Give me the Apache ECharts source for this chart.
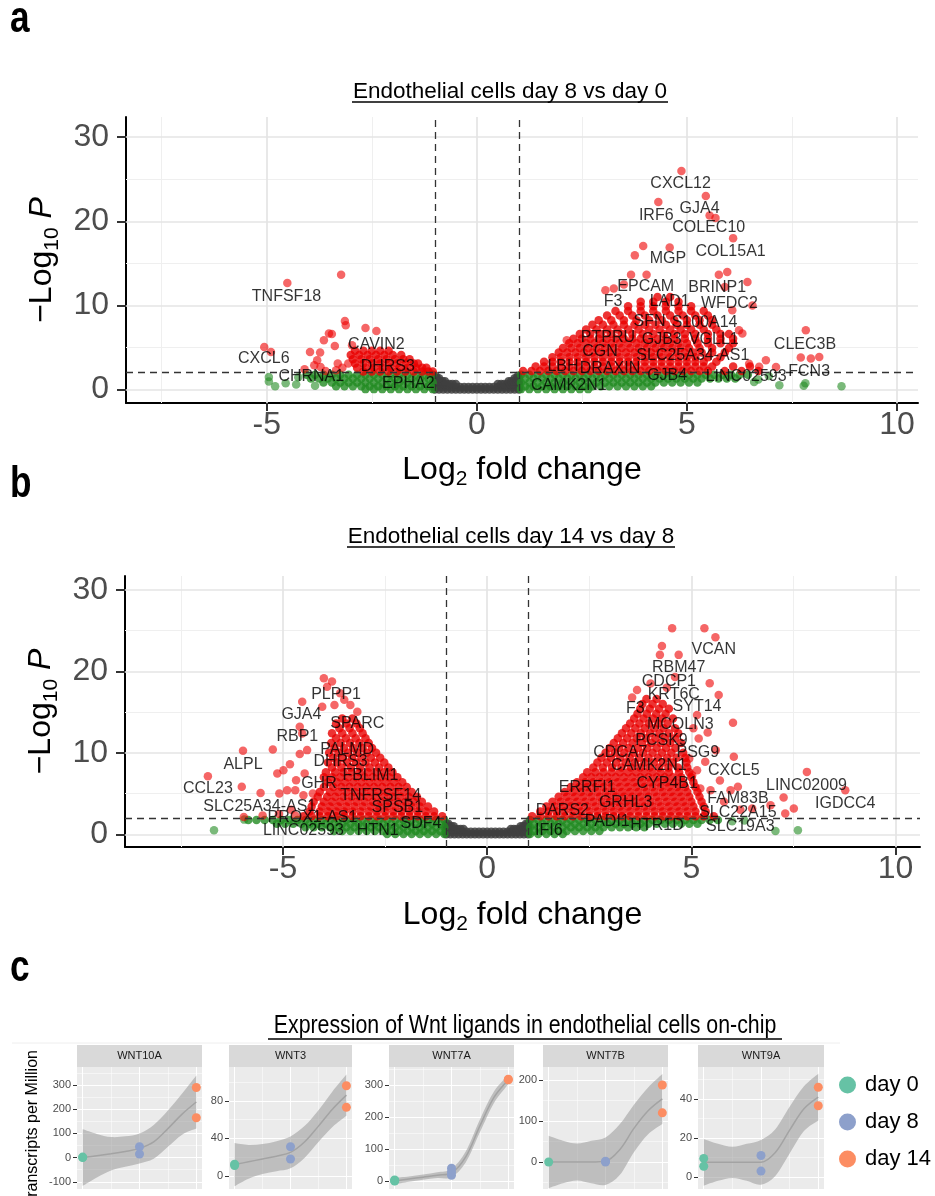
<!DOCTYPE html>
<html><head><meta charset="utf-8">
<script src="https://cdn.jsdelivr.net/npm/echarts@6/dist/echarts.min.js"></script>
<style>html,body{margin:0;padding:0;background:#fff}#c{width:935px;height:1196px}</style>
</head><body><div id="c"></div>
<script>
const FONT = "'Liberation Sans', Arial, Helvetica, sans-serif";

// ---------- Panel a: day 8 vs day 0 ----------
const grayA_rows = [
 [0.0,[-1,-0.9,-0.8,-0.7,-0.6,-0.5,-0.4,-0.3,-0.2,-0.1,0,0.1,0.2,0.3,0.4,0.5,0.6,0.7,0.8,0.9,1]],
 [0.3,[-1,-0.9,-0.8,-0.7,-0.6,-0.5,-0.4,-0.3,-0.2,-0.1,0,0.1,0.2,0.3,0.4,0.5,0.6,0.7,0.8,0.9,1]],
 [0.65,[-1,-0.93,-0.86,-0.79,-0.72,-0.65,-0.58,-0.5,0.5,0.58,0.65,0.72,0.79,0.86,0.93,1]],
 [1.0,[-1,-0.94,-0.88,-0.82,-0.76,0.76,0.82,0.88,0.94,1]],
 [1.35,[-1,-0.95,-0.9,0.9,0.95,1]],
 [1.65,[-0.98,0.98]]
];
const greenA_rows = [
 [1.75,[-1.05,-1.25,-1.45,-1.65,-1.85,-2.05,-2.25,-2.45,-2.65,-2.85,-3.05,-3.25,-3.45,-3.65,-3.85,-4.05]],
 [1.3,[-1.15,-1.35,-1.55,-1.75,-1.95,-2.15,-2.35,-2.55,-2.75,-2.95,-3.15,-3.35,-3.55,-3.75,-3.95]],
 [0.85,[-1.05,-1.25,-1.45,-1.65,-1.85,-2.05,-2.25,-2.45,-2.65,-2.85,-3.05,-3.25,-3.45,-3.65]],
 [0.4,[-1.15,-1.35,-1.55,-1.75,-1.95,-2.15,-2.35,-2.55,-2.75,-2.95,-3.15,-3.35]],
 [0.05,[-1.05,-1.25,-1.45,-1.65,-1.85,-2.05,-2.25,-2.45,-2.65]],
 [1.75,[1.05,1.25,1.45,1.65,1.85,2.05,2.25,2.45,2.65,2.85,3.05,3.25,3.45,3.65,3.85,4.05,4.25,4.45,4.65,4.85,5.05,5.25,5.45,5.65,5.85,6.05,6.25,6.45]],
 [1.3,[1.15,1.35,1.55,1.75,1.95,2.15,2.35,2.55,2.75,2.95,3.15,3.35,3.55,3.75,3.95,4.15,4.35,4.55,4.75,4.95,5.15,5.35,5.55,5.75,5.95,6.15]],
 [0.85,[1.05,1.25,1.45,1.65,1.85,2.05,2.25,2.45,2.65,2.85,3.05,3.25,3.45,3.65,3.85,4.05,4.25,4.45,4.65,4.85,5.05,5.25]],
 [0.4,[1.15,1.35,1.55,1.75,1.95,2.15,2.35,2.55,2.75,2.95,3.15,3.35,3.55,3.75,3.95,4.15]],
 [0.05,[1.05,1.25,1.45,1.65,1.85,2.05,2.25,2.45,2.65]]
];
const greenA_single = [[-4.3,0.6],[-4.55,0.75],[-4.8,0.4],[-4.95,1.5],[-4.95,0.95],[-4.25,1.45],[-3.85,0.45],[7.2,0.5],[7.78,0.45],[7.82,0.75],[8.68,0.4],[6.7,1.2],[6.95,1.6],[6.6,0.9]];
const redA_rows = [
 [4.6,[-2.9,-2.7,-2.5,-2.3,-2.1]],
 [4.1,[-3.0,-2.8,-2.6,-2.4,-2.2,-2.0,-1.8]],
 [3.6,[-2.95,-2.75,-2.55,-2.35,-2.15,-1.95,-1.75,-1.6]],
 [3.1,[-2.9,-2.7,-2.5,-2.3,-2.1,-1.9,-1.7,-1.5,-1.4]],
 [2.6,[-2.85,-2.65,-2.45,-2.25,-2.05,-1.85,-1.65,-1.45,-1.3,-1.2]],
 [2.15,[-2.7,-2.5,-2.3,-2.1,-1.9,-1.7,-1.5,-1.3,-1.15,-1.05]],
 [2.2,[1.1,1.3,1.5,1.7,1.9,2.1,2.3,2.5,2.7,2.9,3.1,3.3,3.5,3.7,3.9,4.1,4.3,4.5,4.7,4.9,5.1,5.3,5.5,5.9,6.3,6.7]],
 [2.75,[1.4,1.6,1.8,2.0,2.2,2.4,2.6,2.8,3.0,3.2,3.4,3.6,3.8,4.0,4.2,4.4,4.6,4.8,5.0,5.2,5.4,5.6,6.1,6.5]],
 [3.3,[1.6,1.8,2.0,2.2,2.4,2.6,2.8,3.0,3.2,3.4,3.6,3.8,4.0,4.2,4.4,4.6,4.8,5.0,5.2,5.4,5.7]],
 [3.85,[1.8,2.0,2.2,2.4,2.6,2.8,3.0,3.2,3.4,3.6,3.8,4.0,4.2,4.4,4.6,4.8,5.0,5.2,5.5,5.8]],
 [4.4,[1.95,2.15,2.35,2.55,2.75,2.95,3.15,3.35,3.55,3.75,3.95,4.15,4.35,4.55,4.75,4.95,5.15,5.35,5.6,5.9]],
 [4.95,[2.05,2.25,2.45,2.65,2.85,3.05,3.25,3.45,3.65,3.85,4.05,4.25,4.45,4.65,4.85,5.05,5.3,5.6,6.0]],
 [5.5,[2.2,2.4,2.6,2.8,3.0,3.2,3.4,3.6,3.8,4.0,4.2,4.4,4.6,4.8,5.0,5.25,5.5,5.8,6.1]],
 [6.05,[2.3,2.5,2.7,2.9,3.1,3.3,3.5,3.7,3.9,4.1,4.3,4.5,4.7,4.95,5.2,5.5,5.8,6.1]],
 [6.6,[2.45,2.7,2.95,3.2,3.45,3.7,3.95,4.2,4.45,4.7,4.95,5.2,5.5,5.8,6.0]],
 [7.15,[2.6,2.85,3.1,3.35,3.6,3.85,4.1,4.35,4.6,4.85,5.1,5.4,5.7]],
 [7.7,[2.75,3.0,3.25,3.5,3.75,4.0,4.25,4.5,4.75,5.0,5.3,5.6]],
 [8.25,[2.9,3.2,3.5,3.8,4.1,4.4,4.7,5.0,5.3,5.6]],
 [8.8,[3.1,3.4,3.7,4.0,4.3,4.6,4.9,5.2,5.5]],
 [9.35,[3.3,3.6,3.9,4.2,4.5,4.8,5.1,5.4]],
 [9.9,[3.6,3.9,4.2,4.5,4.8,5.1]],
 [10.45,[3.9,4.2,4.5,4.8]],
 [11.0,[4.3,4.6]]
];
const redA_single = [[-4.51,12.66],[-3.23,13.66],[-3.14,8.15],[-3.12,7.64],[-2.65,7.32],[-2.39,6.96],[-3.52,6.65],[-3.45,6.6],[-3.64,5.86],[-3.38,5.18],[-5.06,5.06],[-4.9,4.47],[-3.97,4.47],[-3.73,4.39],[-3.8,3.48],[-3.87,2.89],[-3.72,2.69],[-3.31,3.09],[-3.06,3.09],[-2.97,5.26],[-3.35,2.3],[-3.6,2.2],[-4.1,2.4],[-3.2,2.6],
 [4.87,25.97],[5.45,23.0],[4.32,22.3],[5.54,20.7],[5.68,20.4],[6.1,18.0],[3.96,17.06],[4.59,16.9],[3.76,15.95],[3.67,13.66],[4.04,13.66],[5.76,13.66],[5.96,13.97],[6.44,12.78],[3.06,11.8],[3.26,12.0],[6.08,9.42],[6.56,10.0],[6.24,7.04],[6.32,6.65],[2.14,5.86],[7.83,7.04],[7.71,3.8],[7.95,3.68],[8.15,3.87],[6.88,3.48],[7.12,2.69],[6.48,3.08],[6.72,2.7],[5.9,12.2],[3.5,12.5]];
const labelsA = [['TNFSF18',-4.53,11.08],['CXCL6',-5.07,3.68],['CAVIN2',-2.39,5.38],['DHRS3',-2.12,2.77],['CHRNA1',-3.94,1.5],['EPHA2',-1.63,0.71],
 ['CXCL12',4.85,24.46],['IRF6',4.27,20.7],['GJA4',5.3,21.5],['COLEC10',5.52,19.24],['COL15A1',6.04,16.34],['MGP',4.55,15.56],['EPCAM',4.02,12.19],['BRINP1',5.72,12.07],['F3',3.24,10.49],['LAD1',4.59,10.49],['WFDC2',6.01,10.2],['SFN',4.11,8.11],['S100A14',5.42,7.91],['PTPRU',3.12,6.17],['GJB3',4.4,5.94],['VGLL1',5.64,5.94],['CGN',2.93,4.47],['SLC25A34-AS1',5.14,4.07],['CLEC3B',7.81,5.38],['LBH',2.05,2.68],['DRAXIN',3.17,2.49],['GJB4',4.53,1.7],['LINC02593',6.41,1.58],['FCN3',7.91,2.09],['CAMK2N1',2.19,0.51]];

// ---------- Panel b: day 14 vs day 8 ----------
const grayB_rows = [
 [0.0,[-1,-0.9,-0.8,-0.7,-0.6,-0.5,-0.4,-0.3,-0.2,-0.1,0,0.1,0.2,0.3,0.4,0.5,0.6,0.7,0.8,0.9,1]],
 [0.3,[-1,-0.9,-0.8,-0.7,-0.6,-0.5,-0.4,-0.3,-0.2,-0.1,0,0.1,0.2,0.3,0.4,0.5,0.6,0.7,0.8,0.9,1]],
 [0.65,[-1,-0.93,-0.86,-0.79,-0.72,-0.65,-0.58,0.58,0.65,0.72,0.79,0.86,0.93,1]],
 [1.0,[-1,-0.94,-0.88,-0.82,0.82,0.88,0.94,1]],
 [1.3,[-1,-0.95,0.95,1]]
];
const greenB_rows = [
 [1.75,[-1.05,-1.25,-1.45,-1.65,-1.85,-2.05,-2.25,-2.45,-2.65,-2.85,-3.05,-3.25,-3.45,-3.65,-3.85,-4.05,-4.25,-4.45,-4.65,-4.85,-5.05,-5.25,-5.45,-5.65,-5.85]],
 [1.3,[-1.15,-1.35,-1.55,-1.75,-1.95,-2.15,-2.35,-2.55,-2.75,-2.95,-3.15,-3.35,-3.55,-3.75,-3.95,-4.15,-4.35,-4.55,-4.75,-4.95,-5.15]],
 [0.85,[-1.05,-1.25,-1.45,-1.65,-1.85,-2.05,-2.25,-2.45,-2.65,-2.85,-3.05,-3.25,-3.45,-3.65,-3.85,-4.05,-4.25,-4.45]],
 [0.4,[-1.15,-1.35,-1.55,-1.75,-1.95,-2.15,-2.35,-2.55,-2.75,-2.95,-3.15,-3.35,-3.55,-3.75]],
 [0.05,[-1.05,-1.25,-1.45,-1.65,-1.85,-2.05,-2.25,-2.45]],
 [1.75,[1.05,1.25,1.45,1.65,1.85,2.05,2.25,2.45,2.65,2.85,3.05,3.25,3.45,3.65,3.85,4.05,4.25,4.45,4.65,4.85,5.05,5.25,5.45,5.65]],
 [1.3,[1.15,1.35,1.55,1.75,1.95,2.15,2.35,2.55,2.75,2.95,3.15,3.35,3.55,3.75,3.95,4.15,4.35,4.55,4.75,4.95,5.15]],
 [0.85,[1.05,1.25,1.45,1.65,1.85,2.05,2.25,2.45,2.65,2.85,3.05,3.25,3.45,3.65,3.85]],
 [0.4,[1.15,1.35,1.55,1.75,1.95,2.15,2.35,2.55,2.75]],
 [0.05,[1.05,1.25,1.45,1.65,1.85]]
];
const greenB_single = [[-6.69,0.49],[7.06,0.41],[7.61,0.49],[-5.95,1.8],[6.0,1.6],[6.3,1.7]];
const redB_rows = [
 [2.2,[-1.1,-1.3,-1.5,-1.7,-1.9,-2.1,-2.3,-2.5,-2.7,-2.9,-3.1,-3.3,-3.5,-3.7,-3.9,-4.1,-4.3,-4.5]],
 [2.8,[-1.3,-1.5,-1.7,-1.9,-2.1,-2.3,-2.5,-2.7,-2.9,-3.1,-3.3,-3.5,-3.7,-3.9,-4.1,-4.35]],
 [3.4,[-1.45,-1.65,-1.85,-2.05,-2.25,-2.45,-2.65,-2.85,-3.05,-3.25,-3.45,-3.65,-3.85,-4.05,-4.3]],
 [4.0,[-1.6,-1.8,-2.0,-2.2,-2.4,-2.6,-2.8,-3.0,-3.2,-3.4,-3.6,-3.8,-4.0,-4.25]],
 [4.6,[-1.72,-1.92,-2.12,-2.32,-2.52,-2.72,-2.92,-3.12,-3.32,-3.52,-3.72,-3.92,-4.15]],
 [5.2,[-1.85,-2.05,-2.25,-2.45,-2.65,-2.85,-3.05,-3.25,-3.45,-3.65,-3.85,-4.1]],
 [5.8,[-1.97,-2.17,-2.37,-2.57,-2.77,-2.97,-3.17,-3.37,-3.57,-3.77,-4.0]],
 [6.4,[-2.08,-2.28,-2.48,-2.68,-2.88,-3.08,-3.28,-3.48,-3.68,-3.9]],
 [7.0,[-2.2,-2.4,-2.6,-2.8,-3.0,-3.2,-3.4,-3.6,-3.8,-4.0]],
 [7.6,[-2.32,-2.52,-2.72,-2.92,-3.12,-3.32,-3.52,-3.72,-3.95]],
 [8.2,[-2.42,-2.65,-2.88,-3.11,-3.34,-3.57,-3.8]],
 [8.8,[-2.52,-2.75,-2.98,-3.21,-3.44,-3.67,-3.9]],
 [9.4,[-2.62,-2.85,-3.08,-3.31,-3.54,-3.77]],
 [10.0,[-2.72,-2.95,-3.18,-3.41,-3.64,-3.87]],
 [10.6,[-2.82,-3.05,-3.28,-3.51,-3.74]],
 [11.2,[-2.9,-3.13,-3.36,-3.59,-3.82]],
 [11.8,[-2.98,-3.22,-3.46,-3.7]],
 [12.4,[-3.05,-3.3,-3.55,-3.8]],
 [13.0,[-3.12,-3.37,-3.62]],
 [13.6,[-3.2,-3.45,-3.7]],
 [14.2,[-3.3,-3.55]],
 [2.2,[1.1,1.3,1.5,1.7,1.9,2.1,2.3,2.5,2.7,2.9,3.1,3.3,3.5,3.7,3.9,4.1,4.3,4.5,4.7,4.9,5.1,5.3,5.55]],
 [2.8,[1.3,1.5,1.7,1.9,2.1,2.3,2.5,2.7,2.9,3.1,3.3,3.5,3.7,3.9,4.1,4.3,4.5,4.7,4.9,5.1,5.35]],
 [3.4,[1.45,1.65,1.85,2.05,2.25,2.45,2.65,2.85,3.05,3.25,3.45,3.65,3.85,4.05,4.25,4.45,4.65,4.85,5.05,5.3]],
 [4.0,[1.6,1.8,2.0,2.2,2.4,2.6,2.8,3.0,3.2,3.4,3.6,3.8,4.0,4.2,4.4,4.6,4.8,5.0,5.25]],
 [4.6,[1.75,1.95,2.15,2.35,2.55,2.75,2.95,3.15,3.35,3.55,3.75,3.95,4.15,4.35,4.55,4.75,4.95,5.2]],
 [5.2,[1.9,2.1,2.3,2.5,2.7,2.9,3.1,3.3,3.5,3.7,3.9,4.1,4.3,4.5,4.7,4.9,5.15]],
 [5.8,[2.05,2.25,2.45,2.65,2.85,3.05,3.25,3.45,3.65,3.85,4.05,4.25,4.45,4.65,4.85,5.1]],
 [6.4,[2.2,2.4,2.6,2.8,3.0,3.2,3.4,3.6,3.8,4.0,4.2,4.4,4.6,4.8,5.05]],
 [7.0,[2.35,2.55,2.75,2.95,3.15,3.35,3.55,3.75,3.95,4.15,4.35,4.55,4.75,5.0]],
 [7.6,[2.45,2.65,2.85,3.05,3.25,3.45,3.65,3.85,4.05,4.25,4.45,4.7,4.95]],
 [8.2,[2.6,2.83,3.06,3.29,3.52,3.75,3.98,4.21,4.44,4.67,4.9]],
 [8.8,[2.7,2.93,3.16,3.39,3.62,3.85,4.08,4.31,4.54,4.88]],
 [9.4,[2.8,3.03,3.26,3.49,3.72,3.95,4.18,4.41,4.64,4.85]],
 [10.0,[2.9,3.13,3.36,3.59,3.82,4.05,4.28,4.51,4.8]],
 [10.6,[3.0,3.23,3.46,3.69,3.92,4.15,4.38,4.61]],
 [11.2,[3.1,3.33,3.56,3.79,4.02,4.25,4.48,4.75]],
 [11.8,[3.2,3.43,3.66,3.89,4.12,4.35,4.6]],
 [12.4,[3.3,3.53,3.76,3.99,4.22,4.45,4.68]],
 [13.0,[3.4,3.63,3.86,4.09,4.32,4.6]],
 [13.6,[3.5,3.73,3.96,4.19,4.42]],
 [14.2,[3.6,3.83,4.06,4.29,4.55]],
 [14.8,[3.68,3.91,4.14,4.37]],
 [15.4,[3.75,3.98,4.21,4.45]],
 [16.0,[3.8,4.05,4.3]],
 [16.6,[3.9,4.15]]
];
const redB_single = [[-4.0,19.15],[-3.8,18.74],[-3.92,18.12],[-4.53,16.27],[-4.04,15.66],[-3.74,15.87],[-3.35,15.87],[-3.18,15.04],[-4.59,13.2],[-4.53,12.38],[-5.25,10.41],[-5.98,10.25],[-4.59,9.84],[-4.41,10.33],[-4.83,8.61],[-4.99,7.87],[-5.14,7.46],[-4.47,7.46],[-6.84,7.13],[-4.68,6.64],[-6.01,5.82],[-5.55,5.08],[-5.09,5.0],[-4.9,5.4],[-4.7,5.4],[-4.5,4.8],[-4.27,5.0],[-5.96,2.13],[-5.5,2.3],[-5.1,2.5],[-4.8,3.0],[-4.7,2.3],[-3.5,16.5],[-3.6,17.3],
 [4.53,25.3],[5.32,25.3],[5.59,24.19],[4.28,23.12],[4.23,22.02],[4.69,22.02],[5.45,18.53],[5.67,17.1],[3.67,17.71],[5.14,14.64],[6.02,13.69],[5.18,11.77],[6.04,9.51],[5.34,8.89],[5.14,7.87],[7.83,7.66],[6.14,5.82],[5.96,5.41],[8.77,5.41],[7.26,4.51],[7.51,3.16],[7.3,2.54],[5.22,5.62],[5.47,5.41],[5.02,7.26],[6.94,3.57],[6.49,3.16],[4.4,18.0],[4.6,19.3],[4.0,18.5],[3.55,16.8],[5.4,12.5],[5.6,10.3],[5.8,4.0],[6.2,3.0],[5.7,6.6],[4.95,9.3],[5.05,13.0]];
const labelsB = [['PLPP1',-3.7,17.1],['GJA4',-4.55,14.64],['SPARC',-3.18,13.53],['RBP1',-4.65,11.97],['PALMD',-3.43,10.41],['DHRS3',-3.59,8.89],['ALPL',-5.98,8.61],['FBLIM1',-2.86,7.26],['GHR',-4.12,6.23],['CCL23',-6.84,5.62],['TNFRSF14',-2.61,4.8],['SLC25A34-AS1',-5.57,3.44],['SPSB1',-2.2,3.28],['PROX1-AS1',-4.28,2.05],['SDF4',-1.62,1.31],['LINC02593',-4.5,0.49],['HTN1',-2.68,0.49],
 ['VCAN',5.55,22.63],['RBM47',4.69,20.46],['CDCP1',4.45,18.74],['KRT6C',4.57,17.1],['SYT14',5.14,15.66],['F3',3.63,15.46],['MCOLN3',4.73,13.41],['PCSK9',4.27,11.56],['CDCA7',3.26,10.05],['PSG9',5.16,10.05],['CAMK2N1',3.96,8.49],['CXCL5',6.04,7.87],['LINC02009',7.82,6.03],['ERRFI1',2.45,5.74],['CYP4B1',4.41,6.23],['IGDCC4',8.77,3.77],['FAM83B',6.14,4.39],['GRHL3',3.39,3.9],['SLC22A15',6.14,2.67],['DARS2',1.84,2.95],['PADI1',2.94,1.51],['HTR1D',4.16,1.11],['SLC19A3',6.2,0.9],['IFI6',1.51,0.41]];

// axis ticks / cutoffs for volcano plots
const volXTicks = [-5, 0, 5, 10];
const volYTicks = [0, 10, 20, 30];
const volXMinor = [-7.5, -2.5, 2.5, 7.5];
const volYMinor = [5, 15, 25];
const fcCutoffs = [-1, 1];
const pCutoff = 2;

// ---------- Panel c: Wnt ligands ----------
const facetNames = ['WNT10A','WNT3','WNT7A','WNT7B','WNT9A'];
const dayNames = ['day 0','day 8','day 14'];
const day0Vals = [[0,2],[11,12.5],[3,0,1],[0],[9.5,5.5]];
const day8Vals = [[45,15],[31,18],[40,18,28],[0,2],[11,3]];
const day14Vals = [[290,165],[96,73],[318,316],[188,120],[46,36.5]];
const smoothX = [1,1.25,1.5,1.75,2,2.25,2.5,2.75,3];
const fitWNT = [
 [0,8,16,25,38,65,120,180,230],
 [12,15,18,21,25,36,53,71,86],
 [0,6,12,18,25,75,172,262,316],
 [0,0,0,0,2,30,82,125,154],
 [7.5,7.5,7.5,7.5,7.5,12.5,24,35,41]
];
const upperWNT = [
 [117,98,85,88,100,135,195,265,340],
 [35,33,34,37,42,53,70,90,108],
 [10,14,20,27,38,92,192,280,330],
 [64,52,45,52,60,92,140,182,215],
 [19.5,17,15.5,17,19,24.5,36,46.5,53]
];
const lowerWNT = [
 [-117,-82,-53,-38,-24,-5,45,95,120],
 [-11,-3,2,5,8,19,36,52,64],
 [-10,-2,4,9,12,58,152,244,302],
 [-64,-52,-45,-52,-56,-32,24,68,93],
 [-4.5,-2,-0.5,-2,-4,0.5,12,23.5,29]
];
const facetRange = [[-130,375],[-14,116],[-25,356],[-66,232],[-6.2,56.4]];
const facetTicks = [[-100,0,100,200,300],[0,40,80],[0,100,200,300],[0,100,200],[0,20,40]];
const facetMinor = [[-50,50,150,250,350],[20,60,100],[50,150,250,350],[-50,50,150],[10,30,50]];
const facetXTicks = [1,2,3];
const facetXMinor = [1.5,2.5];

// ---------- build ----------
const pts = rows => rows.flatMap(r => r[1].map(x => [x, r[0]]));
const grids = [], xAxes = [], yAxes = [], series = [];

const nameRichX = {m:{fontSize:32,fontFamily:FONT,color:'#000',lineHeight:40}, s:{fontSize:21,fontFamily:FONT,color:'#000',lineHeight:22,verticalAlign:'bottom'}};
const nameRichY = {m:{fontSize:32,fontFamily:FONT,color:'#000',lineHeight:40}, s:{fontSize:21,fontFamily:FONT,color:'#000',lineHeight:22,verticalAlign:'bottom'}, p:{fontSize:32,fontFamily:FONT,color:'#000',fontStyle:'italic',lineHeight:40}};

function addVolcano(gi, grid, xr, yr, gray, greenDense, greenSingle, redDense, redSingle, labels, xGap) {
  grids.push(grid);
  xAxes.push({type:'value', gridIndex:gi, min:xr[0], max:xr[1],
    axisLine:{show:true,onZero:false,lineStyle:{color:'#000',width:2}},
    axisTick:{show:true,length:8,customValues:volXTicks,lineStyle:{color:'#333',width:2}},
    axisLabel:{show:true,customValues:volXTicks,fontSize:32,color:'#4d4d4d',fontFamily:FONT,margin:6},
    splitLine:{show:false},
    name:'{m|Log}{s|2}{m| fold change}', nameLocation:'middle', nameGap:xGap,
    nameTextStyle:{rich:nameRichX}});
  yAxes.push({type:'value', gridIndex:gi, min:yr[0], max:yr[1],
    axisLine:{show:true,onZero:false,lineStyle:{color:'#000',width:2}},
    axisTick:{show:true,length:9,customValues:volYTicks,lineStyle:{color:'#333',width:2}},
    axisLabel:{show:true,customValues:volYTicks,fontSize:32,color:'#4d4d4d',fontFamily:FONT,margin:17},
    splitLine:{show:false},
    name:'{m|\u2212Log}{s|10}{m| }{p|P}', nameLocation:'middle', nameGap:54, nameRotate:90,
    nameTextStyle:{rich:nameRichY}});
  const major = {color:'#e4e4e4', width:1.7, type:'solid'};
  const minor = {color:'#efefef', width:1, type:'solid'};
  series.push({type:'line', xAxisIndex:gi, yAxisIndex:gi, data:[], silent:true, z:1,
    markLine:{z:1, silent:true, symbol:'none', animation:false, label:{show:false}, data:[
      ...volXMinor.map(v=>({xAxis:v, lineStyle:minor})), ...volYMinor.map(v=>({yAxis:v, lineStyle:minor})),
      ...volXTicks.map(v=>({xAxis:v, lineStyle:major})), ...volYTicks.map(v=>({yAxis:v, lineStyle:major}))]}});
  const sc = (data, color, op) => ({type:'scatter', xAxisIndex:gi, yAxisIndex:gi, data, symbolSize:8.5, z:2, silent:true,
    itemStyle:{color, opacity:op, borderWidth:0}});
  series.push(sc(gray, '#3f3f3f', 0.85),
    sc(greenDense, '#228b22', 0.8), sc(greenSingle, '#228b22', 0.6),
    sc(redDense, '#e80000', 0.8), sc(redSingle, '#ee0000', 0.6));
  series.push({type:'line', xAxisIndex:gi, yAxisIndex:gi, data:[], silent:true, z:4,
    markLine:{z:4, silent:true, symbol:'none', animation:false, label:{show:false},
      lineStyle:{type:[7,5], color:'#333', width:1.3},
      data:[...fcCutoffs.map(v=>({xAxis:v})), {yAxis:pCutoff}]}});
  series.push({type:'scatter', xAxisIndex:gi, yAxisIndex:gi, symbolSize:0, z:6, silent:true,
    data: labels.map(l=>({name:l[0], value:[l[1], l[2]]})),
    label:{show:true, position:'inside', formatter:'{b}', fontSize:16, color:'#000', fontFamily:FONT}});
}

addVolcano(0, {left:126, top:117, width:792, height:286}, [-8.35,10.5], [-1.6,32.4],
  pts(grayA_rows), pts(greenA_rows), greenA_single, pts(redA_rows), redA_single, labelsA, 47);
addVolcano(1, {left:125, top:576, width:795, height:271}, [-8.87,10.6], [-1.56,31.7],
  pts(grayB_rows), pts(greenB_rows), greenB_single, pts(redB_rows), redB_single, labelsB, 48);

// Catmull-Rom path through screen points (rendering helper only)
function crPath(p, moveFirst) {
  let d = (moveFirst ? 'M' : 'L') + p[0][0] + ' ' + p[0][1];
  for (let i = 0; i < p.length - 1; i++) {
    const p0 = p[Math.max(i-1,0)], p1 = p[i], p2 = p[i+1], p3 = p[Math.min(i+2,p.length-1)];
    const c1 = [p1[0] + (p2[0]-p0[0])/6, p1[1] + (p2[1]-p0[1])/6];
    const c2 = [p2[0] - (p3[0]-p1[0])/6, p2[1] - (p3[1]-p1[1])/6];
    d += ' C' + c1[0] + ' ' + c1[1] + ' ' + c2[0] + ' ' + c2[1] + ' ' + p2[0] + ' ' + p2[1];
  }
  return d;
}

const facetLeft = [77, 229, 389, 543, 698];
const facetWidth = [125, 123, 125, 125, 126];
const dayColors = ['#66c2a5','#8da0cb','#fc8d62'];
const graphics = [];
facetNames.forEach((nm, k) => {
  const gi = 2 + k;
  grids.push({left:facetLeft[k], top:1067, width:facetWidth[k], height:122, show:true, backgroundColor:'#ebebeb', borderWidth:0});
  xAxes.push({type:'value', gridIndex:gi, min:0.9, max:3.1,
    axisLine:{show:false}, axisTick:{show:true,length:4,customValues:facetXTicks,lineStyle:{color:'#333'}},
    axisLabel:{show:false,customValues:facetXTicks}, splitLine:{show:false}});
  yAxes.push({type:'value', gridIndex:gi, min:facetRange[k][0], max:facetRange[k][1],
    axisLine:{show:false}, axisTick:{show:true,length:4,customValues:facetTicks[k],lineStyle:{color:'#333'}},
    axisLabel:{show:true,customValues:facetTicks[k],fontSize:11,color:'#4d4d4d',fontFamily:FONT,margin:6},
    splitLine:{show:false}});
  const wMaj = {color:'#ffffff', width:1.1, type:'solid'};
  const wMin = {color:'#ffffff', width:0.5, type:'solid'};
  series.push({type:'line', xAxisIndex:gi, yAxisIndex:gi, data:[], silent:true, z:1,
    markLine:{z:1, silent:true, symbol:'none', animation:false, label:{show:false}, data:[
      ...facetXMinor.map(v=>({xAxis:v, lineStyle:wMin})), ...facetMinor[k].map(v=>({yAxis:v, lineStyle:wMin})),
      ...facetXTicks.map(v=>({xAxis:v, lineStyle:wMaj})), ...facetTicks[k].map(v=>({yAxis:v, lineStyle:wMaj}))]}});
  const bandData = smoothX.map((x,i)=>[x, lowerWNT[k][i], upperWNT[k][i]]);
  series.push({type:'custom', xAxisIndex:gi, yAxisIndex:gi, silent:true, z:2, clip:true,
    data:[bandData[0]],
    renderItem:(params, api) => {
      const up = bandData.map(r => api.coord([r[0], r[2]]));
      const lo = bandData.map(r => api.coord([r[0], r[1]])).reverse();
      const d = crPath(up, true) + ' ' + crPath(lo, false) + ' Z';
      return {type:'path', shape:{pathData:d}, style:{fill:'rgba(153,153,153,0.55)'}};
    }});
  series.push({type:'line', xAxisIndex:gi, yAxisIndex:gi, smooth:0.35, symbol:'none', silent:true, z:3,
    lineStyle:{color:'#a3a3a3', width:1.5}, data: smoothX.map((x,i)=>[x, fitWNT[k][i]])});
  [day0Vals, day8Vals, day14Vals].forEach((vals, d) => {
    series.push({type:'scatter', name:dayNames[d], xAxisIndex:gi, yAxisIndex:gi, symbolSize:9, z:5, silent:true,
      itemStyle:{color:dayColors[d], opacity:1}, data: vals[k].map(v=>[d+1, v])});
  });
  graphics.push({type:'rect', shape:{x:facetLeft[k], y:1045, width:facetWidth[k], height:22}, style:{fill:'#d9d9d9'}, z:10});
  graphics.push({type:'text', x:facetLeft[k]+facetWidth[k]/2, y:1056, z:11,
    style:{text:nm, fontSize:11, fontFamily:FONT, fill:'#1a1a1a', align:'center', verticalAlign:'middle'}});
});

graphics.push(
  {type:'text', x:10, y:20, scaleX:0.8, style:{text:'a', fontSize:44, fontWeight:'bold', fontFamily:FONT, fill:'#000', verticalAlign:'middle'}},
  {type:'text', x:10, y:485, scaleX:0.8, style:{text:'b', fontSize:44, fontWeight:'bold', fontFamily:FONT, fill:'#000', verticalAlign:'middle'}},
  {type:'text', x:10, y:969, scaleX:0.8, style:{text:'c', fontSize:44, fontWeight:'bold', fontFamily:FONT, fill:'#000', verticalAlign:'middle'}},
  {type:'text', x:510, y:92, style:{text:'Endothelial cells day 8 vs day 0', fontSize:22.5, fontFamily:FONT, fill:'#000', align:'center', verticalAlign:'middle'}},
  {type:'line', shape:{x1:352, y1:102, x2:668, y2:102}, style:{stroke:'#000', lineWidth:1.5}},
  {type:'text', x:511, y:537, style:{text:'Endothelial cells day 14 vs day 8', fontSize:22.5, fontFamily:FONT, fill:'#000', align:'center', verticalAlign:'middle'}},
  {type:'line', shape:{x1:347, y1:547, x2:675, y2:547}, style:{stroke:'#000', lineWidth:1.5}},
  {type:'text', x:525, y:1026, scaleX:0.82, style:{text:'Expression of Wnt ligands in endothelial cells on-chip', fontSize:26, fontFamily:FONT, fill:'#000', align:'center', verticalAlign:'middle'}},
  {type:'line', shape:{x1:268, y1:1039, x2:782, y2:1039}, style:{stroke:'#000', lineWidth:1.3}},
  {type:'line', shape:{x1:12, y1:1043, x2:840, y2:1043}, style:{stroke:'#eeeeee', lineWidth:1}},
  {type:'text', x:33, y:1128, rotation:Math.PI/2, style:{text:'Transcripts per Million', fontSize:16, fontFamily:FONT, fill:'#000', align:'center', verticalAlign:'middle'}}
);

const chart = echarts.init(document.getElementById('c'), null, {renderer:'canvas'});
chart.setOption({
  animation:false,
  backgroundColor:'#ffffff',
  textStyle:{fontFamily:FONT},
  grid:grids, xAxis:xAxes, yAxis:yAxes, series,
  legend:{data:dayNames, orient:'vertical', left:834, top:1069, icon:'circle', itemWidth:25, itemHeight:17, itemGap:15,
    selectedMode:false, textStyle:{fontSize:22, color:'#000', fontFamily:FONT}},
  graphic: graphics
});
</script></body></html>
